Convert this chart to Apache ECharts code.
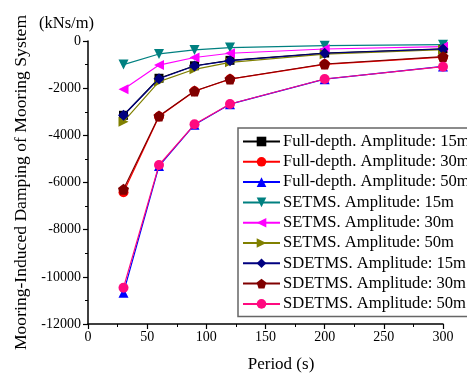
<!DOCTYPE html>
<html><head><meta charset="utf-8">
<script src="https://cdn.jsdelivr.net/npm/echarts@6/dist/echarts.min.js"></script>
<style>html,body{margin:0;padding:0;background:#fff}#c{width:467px;height:376px}</style>
</head><body><div id="c"></div>
<script>
const periods = [30, 60, 90, 120, 200, 300];
const seriesNames = [
  'Full-depth. Amplitude: 15m','Full-depth. Amplitude: 30m','Full-depth. Amplitude: 50m',
  'SETMS. Amplitude: 15m','SETMS. Amplitude: 30m','SETMS. Amplitude: 50m',
  'SDETMS. Amplitude: 15m','SDETMS. Amplitude: 30m','SDETMS. Amplitude: 50m'
];
const fullDepth15 = [-3150, -1580, -1050, -820, -510, -330];
const fullDepth30 = [-6415, -3200, -2130, -1620, -990, -680];
const fullDepth50 = [-10670, -5300, -3550, -2680, -1620, -1080];
const setms15 = [-1000, -550, -380, -280, -200, -155];
const setms30 = [-2050, -1020, -700, -520, -340, -240];
const setms50 = [-3420, -1725, -1200, -905, -560, -370];
const sdetms15 = [-3150, -1600, -1060, -835, -520, -340];
const sdetms30 = [-6290, -3180, -2120, -1610, -975, -665];
const sdetms50 = [-10460, -5258, -3533, -2671, -1611, -1090];
const yTicks = [0, -2000, -4000, -6000, -8000, -10000, -12000];
const xTicks = [0, 50, 100, 150, 200, 250, 300];

const allData = [fullDepth15, fullDepth30, fullDepth50, setms15, setms30, setms50, sdetms15, sdetms30, sdetms50];
const colors = ['#000000','#ff0000','#0000ff','#008080','#ff00ff','#808000','#000080','#800000','#ff0a80'];
const symbols = ['rect','circle','triangle','triangle','triangle','triangle',
  'path://M0,-10 L8,0 L0,10 L-8,0 Z',
  'path://M0,-10 L9.51,-3.09 L5.88,8.09 L-5.88,8.09 L-9.51,-3.09 Z',
  'circle'];
const rotates = [0,0,0,180,90,-90,0,0,0];
const sizes = [9,10,10,10,10,10,11,11,10];

const serif = '"Liberation Serif","DejaVu Serif",serif';
const chart = echarts.init(document.getElementById('c'));
chart.setOption({
  animation: false,
  backgroundColor: '#fff',
  grid: {left: 88, top: 41, right: 24, bottom: 52},
  xAxis: {
    type: 'value', min: 0, max: 300, interval: 50,
    axisLine: {show: true, onZero: false, lineStyle: {color: '#000', width: 1.5}},
    axisTick: {show: true, inside: false, length: 5, lineStyle: {color: '#000', width: 1.2}},
    minorTick: {show: true, splitNumber: 2, length: 3, lineStyle: {color: '#000', width: 1}},
    axisLabel: {fontFamily: serif, fontSize: 14, color: '#000', margin: 6,
      formatter: v => xTicks.includes(v) ? String(v) : ''},
    splitLine: {show: false}
  },
  yAxis: {
    type: 'value', min: -12000, max: 0, interval: 2000,
    name: 'Mooring-Induced Damping of Mooring System', nameLocation: 'middle', nameGap: 58, nameRotate: 90,
    nameTextStyle: {fontFamily: serif, fontSize: 17.6, color: '#000'},
    axisLine: {show: true, onZero: false, lineStyle: {color: '#000', width: 1.5}},
    axisTick: {show: true, inside: false, length: 5, lineStyle: {color: '#000', width: 1.2}},
    minorTick: {show: true, splitNumber: 2, length: 3, lineStyle: {color: '#000', width: 1}},
    axisLabel: {fontFamily: serif, fontSize: 14, color: '#000', margin: 7,
      formatter: v => yTicks.includes(v) ? String(v) : ''},
    splitLine: {show: false}
  },
  graphic: [
    {type: 'text', left: 39, top: 15,
      style: {text: '(kNs/m)', font: '16.5px ' + serif, fill: '#000'}},
    {type: 'text', x: 281, y: 365,
      style: {text: 'Period (s)', font: '17px ' + serif, fill: '#000', align: 'center', verticalAlign: 'middle'}}
  ],
  legend: {
    orient: 'vertical', left: 238, top: 128,
    padding: [5, 4, 4, 4], itemGap: 3.3, itemWidth: 37, itemHeight: 12,
    backgroundColor: '#fff', borderColor: '#666', borderWidth: 1.5,
    textStyle: {fontFamily: serif, fontSize: 16.6, color: '#000', lineHeight: 16, padding: [0,0,0,-2]},
    data: seriesNames
  },
  series: seriesNames.map((n, i) => ({
    name: n, type: 'line',
    data: periods.map((p, j) => [p, allData[i][j]]),
    symbol: symbols[i], symbolRotate: rotates[i], symbolSize: sizes[i],
    showAllSymbol: true,
    lineStyle: {color: colors[i], width: 1.2},
    itemStyle: {color: colors[i]},
    z: 2 + i
  }))
});
</script></body></html>
